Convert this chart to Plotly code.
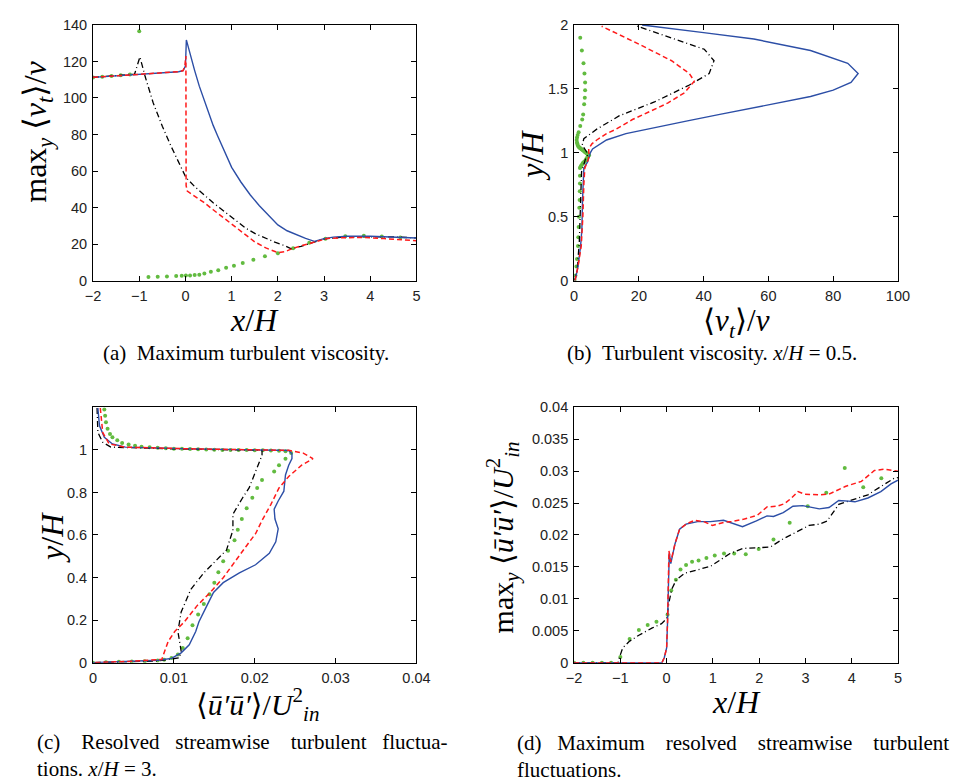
import plotly.graph_objects as go

# ---------------- data ----------------
# (a) Maximum turbulent viscosity vs x/H
A_BLUE_X = [-2.0, -1.5, -1.0, -0.5, -0.15, -0.05, 0.0, 0.02, 0.1, 0.2, 0.3, 0.4, 0.5, 0.6, 0.7, 0.8, 1.0,
            1.2, 1.4, 1.6, 1.8, 2.0, 2.2, 2.4, 2.6, 2.79, 2.9, 3.0, 3.2, 3.5, 4.0, 4.5, 5.0]
A_BLUE_Y = [111.3, 112.2, 113.0, 113.8, 114.4, 115.0, 117.5, 131.8, 124, 115, 106.5, 99, 92, 85, 79, 73, 62,
            54, 47, 41, 35.5, 30.5, 27.3, 25.0, 23.1, 21.5, 22.2, 23.0, 23.8, 24.3, 24.3, 24.0, 23.3]
A_RED_X = [-2.0, -1.5, -1.0, -0.5, -0.15, -0.05, -0.01, 0.01, 0.015, 0.04, 0.2, 0.4, 0.6, 0.82, 1.0, 1.24,
           1.5, 1.74, 2.0, 2.15, 2.33, 2.5, 2.68, 2.85, 3.07, 3.4, 3.85, 4.3, 4.7, 5.0]
A_RED_Y = [111.3, 112.2, 113.0, 113.8, 114.4, 115.0, 118, 123, 52, 49, 46.3, 42.8, 38.8, 34.5, 30.5, 25.8,
           21.2, 17.9, 15.3, 15.8, 17.7, 19, 20.4, 21.8, 23.1, 23.5, 23.6, 23.0, 22.3, 21.8]
A_BLACK_X = [-2.0, -1.5, -1.1, -0.985, -0.87, -0.7, -0.5, -0.31, -0.15, 0.01, 0.2, 0.4, 0.6, 0.82, 1.05,
             1.31, 1.52, 1.74, 1.95, 2.16, 2.29, 2.5, 2.7, 3.0, 3.5, 4.0, 4.5, 5.0]
A_BLACK_Y = [111.3, 112.2, 113.1, 122.5, 111.6, 97.5, 84.5, 73.5, 64.5, 56.5, 51.5, 47.0, 42.6, 38.3, 33.5,
             28.6, 25.6, 23.0, 20.9, 19.0, 17.4, 18.8, 20.5, 22.8, 24.1, 24.2, 23.9, 23.4]
A_GREEN_X = [-2.0, -1.8, -1.6, -1.4, -1.2, -1.0, -0.8, -0.6, -0.4, -0.2, -0.08, 0.01, 0.1, 0.2, 0.3, 0.41,
             0.55, 0.71, 0.88, 1.05, 1.24, 1.47, 1.72, 2.0, 2.33, 2.68, 3.03, 3.46, 3.86, 4.25, 4.65]
A_GREEN_Y = [111.2, 111.6, 112.1, 112.5, 112.8, 136.5, 2.0, 2.1, 2.3, 2.5, 2.7, 2.8, 2.8, 3.1, 3.2, 3.9,
             4.8, 5.7, 7.1, 8.2, 9.7, 11.4, 13.3, 15.0, 17.7, 20.7, 22.9, 24.3, 24.5, 24.1, 23.6]

# (b) Turbulent viscosity profile at x/H = 0.5
B_BLUE_X = [0.3, 1.2, 2.0, 2.4, 2.6, 3.0, 4.2, 5.0, 5.7, 8.0, 10, 16, 25, 35, 45, 55, 66, 73, 80, 85.5,
            87.7, 84.5, 73, 55.5, 40, 21]
B_BLUE_Y = [0.0, 0.11, 0.27, 0.40, 0.63, 0.88, 0.93, 1.0, 1.03, 1.07, 1.10, 1.15, 1.20, 1.25, 1.30, 1.35,
            1.40, 1.44, 1.49, 1.55, 1.62, 1.70, 1.80, 1.89, 1.94, 2.0]
B_RED_X = [0.3, 1.2, 2.2, 2.7, 3.0, 3.3, 4.4, 4.6, 4.5, 5.5, 7.0, 10, 13, 18, 24, 29, 34.1, 37.1, 35.6,
           30.1, 20.0, 8.5]
B_RED_Y = [0.0, 0.11, 0.27, 0.50, 0.75, 0.88, 0.95, 0.98, 1.03, 1.07, 1.10, 1.15, 1.185, 1.26, 1.33, 1.39,
           1.47, 1.56, 1.62, 1.72, 1.85, 1.99]
B_BLACK_X = [0.2, 1.0, 1.6, 2.0, 2.3, 3.5, 4.3, 2.5, 3.0, 7.0, 14.0, 25.0, 35.6, 41.7, 43.2, 40.2, 30.1,
             19.5]
B_BLACK_Y = [0.0, 0.10, 0.30, 0.60, 0.85, 0.95, 0.99, 1.06, 1.11, 1.185, 1.29, 1.40, 1.53, 1.62, 1.72,
             1.81, 1.90, 1.99]
B_GREEN_X = [0.2, 0.4, 0.7, 0.9, 1.2, 1.3, 1.4, 1.5, 1.6, 1.7, 1.75, 1.8, 1.8, 1.8, 2.0, 2.2, 2.5, 2.7,
             3.0, 3.2, 3.5, 3.7, 4.0, 4.2, 4.4, 4.6, 4.5, 4.2, 3.9, 3.7, 3.4, 3.2, 2.9, 2.7, 2.4, 2.2,
             1.9, 1.7, 1.5, 1.3, 1.1, 1.0, 0.9, 0.8, 0.9, 1.1, 1.4, 1.9, 2.5, 2.8, 3.1, 3.3, 3.4, 3.4,
             3.2, 2.9, 2.4, 1.9]
B_GREEN_Y = [0.0, 0.04, 0.11, 0.17, 0.27, 0.34, 0.42, 0.50, 0.57, 0.63, 0.70, 0.76, 0.82, 0.88, 0.89,
             0.90, 0.91, 0.92, 0.925, 0.93, 0.94, 0.95, 0.96, 0.97, 0.975, 0.98, 0.985, 0.99, 0.995, 1.0,
             1.005, 1.01, 1.015, 1.02, 1.025, 1.03, 1.035, 1.04, 1.045, 1.05, 1.06, 1.07, 1.08, 1.10,
             1.12, 1.14, 1.16, 1.21, 1.26, 1.30, 1.38, 1.43, 1.49, 1.55, 1.62, 1.70, 1.80, 1.90]

# (c) Resolved streamwise fluctuations at x/H = 3
C_BLUE_X = [0.0006, 0.0008, 0.0014, 0.0024, 0.004, 0.012, 0.0242, 0.0246, 0.0246, 0.0242, 0.0238, 0.0236,
            0.0229, 0.0224, 0.0225, 0.0229, 0.0226, 0.0218, 0.0201, 0.0181, 0.0161, 0.0149, 0.0141,
            0.0131, 0.0127, 0.0119, 0.0109, 0.0097, 0.0081, 0.004, 0.0]
C_BLUE_Y = [1.197, 1.113, 1.059, 1.028, 1.013, 1.005, 0.9975, 0.982, 0.959, 0.928, 0.882, 0.806, 0.760,
            0.721, 0.675, 0.629, 0.568, 0.514, 0.460, 0.422, 0.376, 0.330, 0.269, 0.192, 0.146, 0.084,
            0.046, 0.020, 0.011, 0.005, 0.0]
C_RED_X = [0.0009, 0.0012, 0.002, 0.004, 0.012, 0.0242, 0.026, 0.0272, 0.0258, 0.0242, 0.023, 0.022,
           0.0209, 0.0201, 0.0189, 0.0177, 0.0161, 0.0145, 0.0129, 0.0113, 0.0101, 0.0093, 0.0087,
           0.0085, 0.004, 0.0]
C_RED_Y = [1.197, 1.082, 1.028, 1.013, 1.005, 0.998, 0.985, 0.959, 0.928, 0.875, 0.821, 0.744, 0.668,
           0.606, 0.545, 0.483, 0.399, 0.330, 0.269, 0.192, 0.146, 0.100, 0.038, 0.015, 0.005, 0.0]
C_BLACK_X = [0.0005, 0.0006, 0.0012, 0.0022, 0.01, 0.0209, 0.0209, 0.0201, 0.0193, 0.0185, 0.0173, 0.0173,
             0.0165, 0.0153, 0.0137, 0.0121, 0.0109, 0.0105, 0.0109, 0.0107, 0.0081, 0.0]
C_BLACK_Y = [1.197, 1.082, 1.036, 1.013, 1.005, 0.998, 0.975, 0.898, 0.821, 0.775, 0.698, 0.622, 0.529,
             0.483, 0.422, 0.345, 0.238, 0.146, 0.054, 0.023, 0.008, 0.0]
C_GREEN_X = [0.0014, 0.0015, 0.0016, 0.0018, 0.0021, 0.0024, 0.003, 0.0036, 0.0044, 0.0052, 0.006, 0.007,
             0.008, 0.009, 0.010, 0.011, 0.012, 0.013, 0.014, 0.015, 0.016, 0.017, 0.018, 0.019, 0.020,
             0.021, 0.022, 0.023, 0.0238, 0.0245, 0.0238, 0.023, 0.0224, 0.0209, 0.0203, 0.0197, 0.019,
             0.0184, 0.0179, 0.0175, 0.0167, 0.0161, 0.0155, 0.015, 0.0144, 0.0137, 0.013, 0.0123, 0.0117,
             0.0111, 0.0105, 0.0097, 0.0088, 0.008, 0.0064, 0.0048, 0.0032, 0.0016, 0.0]
C_GREEN_Y = [1.19, 1.16, 1.13, 1.10, 1.075, 1.06, 1.045, 1.033, 1.025, 1.02, 1.015, 1.012, 1.01, 1.008,
             1.006, 1.005, 1.004, 1.003, 1.002, 1.001, 1.0, 1.0, 0.999, 0.999, 0.998, 0.998, 0.997, 0.996,
             0.994, 0.985, 0.959, 0.928, 0.898, 0.859, 0.821, 0.775, 0.726, 0.675, 0.625, 0.575, 0.526,
             0.476, 0.425, 0.376, 0.322, 0.276, 0.226, 0.176, 0.115, 0.069, 0.038, 0.022, 0.013, 0.010,
             0.007, 0.005, 0.004, 0.002, 0.0]

# (d) Maximum resolved streamwise fluctuations vs x/H
D_BLUE_X = [-2.0, -0.1, -0.05, 0.0, 0.02, 0.04, 0.057, 0.09, 0.18, 0.28, 0.42, 0.67, 0.95, 1.23, 1.44, 1.64,
            1.94, 2.17, 2.31, 2.52, 2.73, 2.94, 3.08, 3.30, 3.51, 3.72, 3.93, 4.07, 4.35, 4.63, 4.85, 5.0]
D_BLUE_Y = [0.0, 0.0, 0.0008, 0.0023, 0.0064, 0.0115, 0.0172, 0.0155, 0.0186, 0.0209, 0.0217, 0.0221,
            0.0221, 0.0223, 0.0218, 0.0213, 0.0222, 0.023, 0.0229, 0.0235, 0.0245, 0.0246, 0.0244, 0.0241,
            0.0243, 0.0254, 0.0253, 0.0252, 0.0258, 0.0268, 0.028, 0.0286]
D_RED_X = [-2.0, -0.1, -0.05, 0.0, 0.02, 0.04, 0.05, 0.09, 0.18, 0.28, 0.42, 0.6, 0.8, 0.99, 1.25, 1.4,
           1.68, 1.96, 2.17, 2.38, 2.55, 2.70, 2.84, 2.98, 3.30, 3.51, 3.70, 3.86, 4.21, 4.49, 4.70, 4.95,
           5.0]
D_RED_Y = [0.0, 0.0, 0.0008, 0.0023, 0.0064, 0.0115, 0.0175, 0.0158, 0.0186, 0.0209, 0.0217, 0.0223,
           0.0221, 0.0215, 0.022, 0.0221, 0.0225, 0.0231, 0.0244, 0.0245, 0.0249, 0.0258, 0.0268, 0.0264,
           0.0263, 0.0264, 0.0270, 0.0276, 0.0284, 0.0301, 0.0303, 0.0300, 0.0300]
D_BLACK_X = [-2.0, -1.05, -1.02, -0.95, -0.81, -0.60, -0.32, -0.11, 0.0, 0.05, 0.11, 0.21, 0.39, 0.67,
             0.95, 1.16, 1.37, 1.65, 1.94, 2.24, 2.52, 2.80, 3.08, 3.30, 3.47, 3.72, 4.0, 4.35, 4.63, 4.92,
             5.0]
D_BLACK_Y = [0.0, 0.0, 0.0008, 0.0023, 0.0033, 0.0043, 0.0054, 0.0061, 0.0069, 0.0094, 0.0115, 0.013,
             0.014, 0.0145, 0.0151, 0.0161, 0.0171, 0.0179, 0.018, 0.0181, 0.0194, 0.0204, 0.0215, 0.0217,
             0.0222, 0.0248, 0.0255, 0.0263, 0.0276, 0.0289, 0.029]
D_GREEN_X = [-2.0, -1.8, -1.6, -1.4, -1.2, -1.0, -0.8, -0.6, -0.41, -0.22, 0.02, 0.1, 0.2, 0.3, 0.42, 0.55,
             0.69, 0.86, 1.04, 1.24, 1.46, 1.71, 1.99, 2.31, 2.66, 3.05, 3.45, 3.85, 4.25, 4.64]
D_GREEN_Y = [0, 0, 0, 0, 0, 0.0009, 0.0037, 0.0051, 0.0059, 0.0064, 0.0075, 0.0113, 0.013, 0.0146, 0.0153,
             0.0158, 0.016, 0.0164, 0.0168, 0.0171, 0.0171, 0.0170, 0.0178, 0.0193, 0.0219, 0.0245,
             0.0266, 0.0305, 0.0275, 0.0289]

# ---------------- styling ----------------
BLUE = "#2c4ea6"
RED = "#ff1a1a"
BLACK = "#000000"
GREEN = "#62bb40"
W, H = 966, 782

def line(x, y, ax, color, dash, width=1.4):
    return go.Scatter(x=x, y=y, mode="lines", xaxis=ax[0], yaxis=ax[1], showlegend=False,
                      line=dict(color=color, width=width, dash=dash), hoverinfo="skip")

def dots(x, y, ax):
    return go.Scatter(x=x, y=y, mode="markers", xaxis=ax[0], yaxis=ax[1], showlegend=False,
                      marker=dict(color=GREEN, size=4, line=dict(width=0)), hoverinfo="skip")

RED_DASH = "5px,3px"
BLK_DASH = "6px,3px,1px,3px"

fig = go.Figure()
panels = [
    (("x", "y"), A_BLUE_X, A_BLUE_Y, A_RED_X, A_RED_Y, A_BLACK_X, A_BLACK_Y, A_GREEN_X, A_GREEN_Y),
    (("x2", "y2"), B_BLUE_X, B_BLUE_Y, B_RED_X, B_RED_Y, B_BLACK_X, B_BLACK_Y, B_GREEN_X, B_GREEN_Y),
    (("x3", "y3"), C_BLUE_X, C_BLUE_Y, C_RED_X, C_RED_Y, C_BLACK_X, C_BLACK_Y, C_GREEN_X, C_GREEN_Y),
    (("x4", "y4"), D_BLUE_X, D_BLUE_Y, D_RED_X, D_RED_Y, D_BLACK_X, D_BLACK_Y, D_GREEN_X, D_GREEN_Y),
]
for ax, bx, by, rx, ry, kx, ky, gx, gy in panels:
    fig.add_trace(dots(gx, gy, ax))
    fig.add_trace(line(kx, ky, ax, BLACK, BLK_DASH, 1.3))
    fig.add_trace(line(bx, by, ax, BLUE, "solid", 1.4))
    fig.add_trace(line(rx, ry, ax, RED, RED_DASH, 1.5))

TICKFONT = dict(family="Liberation Sans, Arial, sans-serif", size=14.5, color="#222222")

def axis(domain, rng, tickvals, ticktext=None, anchor=None, standoff=2):
    d = dict(domain=domain, range=rng, showline=True, linecolor="black", linewidth=1, mirror="ticks",
             ticks="inside", ticklen=5, tickcolor="black", tickwidth=1, showgrid=False, zeroline=False,
             tickfont=TICKFONT, tickmode="array", tickvals=tickvals, fixedrange=True, anchor=anchor,
             ticklabelstandoff=standoff)
    if ticktext is not None:
        d["ticktext"] = ticktext
    return d

XL = [87 / W, 418 / W]
XR = [579.3 / W, 910.7 / W]
YT = [1 - 278.3 / H, 1 - 17.3 / H]
YB = [1 - 668.3 / H, 1 - 407.7 / H]

A_XT = [-2, -1, 0, 1, 2, 3, 4, 5]
A_XL = ["\u22122", "\u22121", "0", "1", "2", "3", "4", "5"]
A_YT = [0, 20, 40, 60, 80, 100, 120, 140]
B_XT = [0, 20, 40, 60, 80, 100]
B_YT = [0, 0.5, 1, 1.5, 2]
B_YL = ["0", "0.5", "1", "1.5", "2"]
C_XT = [0, 0.01, 0.02, 0.03, 0.04]
C_XL = ["0", "0.01", "0.02", "0.03", "0.04"]
C_YT = [0, 0.2, 0.4, 0.6, 0.8, 1]
C_YL = ["0", "0.2", "0.4", "0.6", "0.8", "1"]
D_YT = [0, 0.005, 0.01, 0.015, 0.02, 0.025, 0.03, 0.035, 0.04]
D_YL = ["0", "0.005", "0.01", "0.015", "0.02", "0.025", "0.03", "0.035", "0.04"]

fig.update_layout(
    width=W, height=H, margin=dict(l=0, r=0, t=0, b=0),
    paper_bgcolor="white", plot_bgcolor="white", showlegend=False,
    xaxis=axis(XL, [-2, 5], A_XT, A_XL, "y", 2),
    yaxis=axis(YT, [0, 140], A_YT, None, "x"),
    xaxis2=axis(XR, [0, 100], B_XT, None, "y2", 2),
    yaxis2=axis(YT, [0, 2], B_YT, B_YL, "x2"),
    xaxis3=axis(XL, [0, 0.04], C_XT, C_XL, "y3", 2),
    yaxis3=axis(YB, [0, 1.2], C_YT, C_YL, "x3"),
    xaxis4=axis(XR, [-2, 5], A_XT, A_XL, "y4", 2),
    yaxis4=axis(YB, [0, 0.04], D_YT, D_YL, "x4"),
)

MATH = dict(family="Liberation Serif, DejaVu Serif, serif", size=32, color="black")
MATH_N = dict(family="Liberation Serif, DejaVu Serif, serif", size=31, color="black")
MATH_D = dict(family="Liberation Serif, DejaVu Serif, serif", size=30, color="black")
CAP = dict(family="Liberation Serif, DejaVu Serif, serif", size=21, color="black")

def ann(text, px, py, font, angle=0, xanchor="center", yanchor="middle"):
    fig.add_annotation(text=text, x=px / W, y=1 - py / H, xref="paper", yref="paper", showarrow=False,
                       font=font, textangle=angle, xanchor=xanchor, yanchor=yanchor, align="left")

# axis titles
ann("<i>x</i>/<i>H</i>", 252.5, 319, MATH)
ann("max<sub><i>y</i></sub> \u27e8<i>\u03bd</i><sub><i>t</i></sub>\u27e9/<i>\u03bd</i>", 30, 126, MATH, -90)
ann("\u27e8<i>\u03bd</i><sub><i>t</i></sub>\u27e9/<i>\u03bd</i>", 745, 322, MATH_N)
ann("<i>y</i>/<i>H</i>", 536, 150, MATH, -90)
ann("<i>y</i>/<i>H</i>", 45, 540, MATH, -90)
ann("\u27e8<i>u\u0304\u2032u\u0304\u2032</i>\u27e9/<i>U</i><sup>2</sup><sub><i>in</i></sub>", 255, 711, MATH_D)
ann("<i>x</i>/<i>H</i>", 745, 708, MATH)
ann("max<sub><i>y</i></sub> \u27e8<i>u\u0304\u2032u\u0304\u2032</i>\u27e9/<i>U</i><sup>2</sup><sub><i>in</i></sub>",
    507, 540, MATH_D, -90)

# captions (first lines of (c) and (d) are justified in the reference)
SP = "\u00a0"
ann("(a)" + SP * 2 + "Maximum turbulent viscosity.", 244, 352, CAP)
ann("(b)" + SP * 2 + "Turbulent viscosity. <i>x</i>/<i>H</i> = 0.5.", 720, 352, CAP)
CAP_C = ("(c)" + SP * 4 + "Resolved" + SP * 3 + "streamwise" + SP * 4 + "turbulent" + SP * 3 + "fluctua-"
         + "<br>tions. <i>x</i>/<i>H</i> = 3.")
CAP_D = ("(d)" + SP * 3 + "Maximum" + SP * 4 + "resolved" + SP * 4 + "streamwise" + SP * 4 + "turbulent"
         + "<br>fluctuations.")
ann(CAP_C, 28, 763, CAP, 0, "left")
ann(CAP_D, 519, 764, CAP, 0, "left")

fig.write_html("out.html")
